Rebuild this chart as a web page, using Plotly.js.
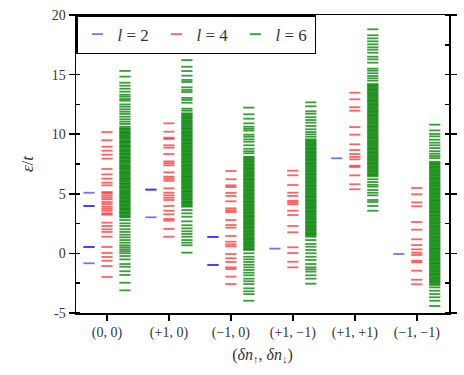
<!DOCTYPE html>
<html>
<head>
<meta charset="utf-8">
<script src="https://cdn.plot.ly/plotly-3.0.1.min.js"></script>
<style>
  html, body { margin: 0; padding: 0; background: #fff; }
  #chart { width: 464px; height: 375px; }
</style>
</head>
<body>
<div id="chart"></div>
<script>
// Sectors (dn_up, dn_down) on the x axis
const categories = ["(0, 0)", "(+1, 0)", "(\u22121, 0)", "(+1, \u22121)", "(+1, +1)", "(\u22121, \u22121)"];
const yTickVals = [-5, 0, 5, 10, 15, 20];
const yTickText = ["-5", "0", "5", "10", "15", "20"];

// Energy levels eps/t, one list per sector
// (repeated values = darker, degenerate lines)
const levelsL2 = [
  [5.09, 3.98, 3.98, 0.54, 0.54, -0.83],
  [5.35, 5.35, 3.03],
  [1.38, 1.38, -0.97, -0.97],
  [0.40],
  [7.98],
  [-0.05]
];

const levelsL4 = [
  [10.18, 9.49, 8.95, 8.62, 8.28, 7.95, 7.08, 6.63, 6.27, 5.93, 5.71, 5.15, 5.04, 4.87, 4.70, 4.54, 4.31, 4.14,
   3.92, 3.75, 3.58, 3.36, 3.25, 2.58, 2.30, 2.02, 1.80, 1.40, 0.54, 0.03, -0.30, -0.61, -1.06, -1.98],
  [10.91, 10.21, 9.71, 9.60, 9.07, 8.87, 8.34, 7.72, 7.56, 7.39, 6.80, 6.44, 6.27, 6.10, 5.46, 5.09, 4.87, 4.67,
   4.48, 3.98, 3.58, 3.28, 2.89, 2.75, 2.05, 1.40],
  [6.91, 6.22, 5.71, 5.57, 5.07, 4.82, 4.37, 3.78, 3.61, 3.47, 2.80, 2.38, 2.16, 1.46, 0.98, 0.76, 0.59, -0.05,
   -0.41, -0.72, -1.17, -1.31, -1.95, -2.57],
  [6.94, 6.55, 5.74, 5.09, 4.82, 4.42, 4.28, 4.12, 3.58, 3.22, 2.30, 1.77, 0.51, 0.03, -0.70, -1.17],
  [13.48, 12.93, 12.26, 11.97, 10.60, 9.96, 9.15, 8.67, 8.34, 8.09, 7.89, 7.36, 7.25, 6.55, 5.80, 5.38],
  [5.49, 4.96, 4.28, 3.95, 2.63, 1.99, 1.18, 0.70, 0.34, 0.06, -0.13, -0.61, -0.75, -1.45, -2.21, -2.59]
];

const levelsL6 = [
  [15.31, 14.83, 14.32, 14.07, 13.82, 13.57, 13.31, 13.15, 12.95, 12.81, 12.50, 12.31, 12.09, 11.89, 11.70, 11.47,
   11.25, 11.05, 10.86, 10.63,
   10.50, 10.42, 10.31, 10.20, 10.12, 10.03, 9.92, 9.81, 9.73, 9.64, 9.52, 9.41, 9.33, 9.24, 9.12, 9.02, 8.94, 8.83,
   8.71, 8.62, 8.53, 8.41, 8.33, 8.22, 8.11, 8.02, 7.93, 7.81, 7.72, 7.64, 7.52, 7.40, 7.32, 7.21, 7.12, 7.03, 6.91,
   6.80, 6.72, 6.61, 6.52, 6.41, 6.30, 6.22, 6.11, 6.02, 5.90, 5.82, 5.71, 5.60, 5.52, 5.43, 5.31, 5.20, 5.12, 5.01,
   4.92, 4.81, 4.70, 4.62, 4.51, 4.40, 4.32, 4.21, 4.10, 4.02, 3.91, 3.80, 3.71, 3.62, 3.50, 3.41, 3.32, 3.20, 3.11,
   3.02, 2.80, 2.52, 2.30, 2.02, 1.80, 1.57, 1.35, 1.12, 0.90, 0.68, 0.51, 0.34, 0.18, 0.01, -0.22, -0.50, -0.89,
   -1.12, -1.50, -1.81, -2.46, -3.10],
  [16.22, 15.66, 15.30, 14.91, 14.55, 14.38, 13.93, 13.71, 13.54, 13.04, 12.87, 12.64, 12.14, 11.97,
   11.75, 11.66, 11.55, 11.44, 11.35, 11.24, 11.13, 11.04, 10.93, 10.82, 10.73, 10.62, 10.51, 10.42, 10.31, 10.20,
   10.11, 10.00, 9.90, 9.81, 9.70, 9.59, 9.50, 9.39, 9.28, 9.19, 9.08, 8.97, 8.88, 8.77, 8.66, 8.57, 8.46, 8.35,
   8.26, 8.15, 8.04, 7.95, 7.84, 7.73, 7.64, 7.53, 7.42, 7.33, 7.22, 7.11, 7.02, 6.91, 6.80, 6.71, 6.60, 6.49, 6.40,
   6.29, 6.18, 6.09, 5.98, 5.87, 5.78, 5.67, 5.56, 5.47, 5.36, 5.25, 5.16, 5.05, 4.94, 4.85, 4.74, 4.63, 4.54, 4.43,
   4.32, 4.23, 4.12, 4.01, 3.92, 3.64, 3.36, 3.08, 2.69, 2.36, 2.10, 1.85, 1.63, 1.40, 1.12, 0.90, 0.68, 0.06],
  [12.23, 11.67, 11.30, 10.91, 10.63, 10.46, 10.30, 9.96, 9.79, 9.57, 9.37, 9.07, 8.78, 8.57, 8.40,
   8.11, 8.02, 7.91, 7.80, 7.71, 7.60, 7.49, 7.40, 7.29, 7.18, 7.09, 6.98, 6.87, 6.78, 6.67, 6.56, 6.47, 6.36, 6.25,
   6.16, 6.05, 5.94, 5.85, 5.74, 5.63, 5.54, 5.43, 5.32, 5.23, 5.12, 5.01, 4.92, 4.81, 4.70, 4.61, 4.50, 4.39, 4.30,
   4.19, 4.08, 3.99, 3.88, 3.77, 3.68, 3.57, 3.46, 3.37, 3.26, 3.15, 3.06, 2.95, 2.84, 2.75, 2.64, 2.53, 2.44, 2.33,
   2.22, 2.13, 2.02, 1.91, 1.82, 1.71, 1.60, 1.51, 1.40, 1.29, 1.20, 1.09, 0.98, 0.89, 0.78, 0.67, 0.58, 0.47, 0.36,
   0.29, 0.01, -0.28, -0.50, -0.72, -0.95, -1.17, -1.39, -1.62, -1.84, -2.12, -2.34, -2.57, -2.93, -3.18, -3.41, -3.97],
  [12.67, 12.34, 11.92, 11.72, 11.42, 11.19, 10.97, 10.69, 10.41, 10.18, 9.99, 9.79,
   9.57, 9.46, 9.37, 9.26, 9.15, 9.06, 8.95, 8.84, 8.75, 8.64, 8.53, 8.44, 8.33, 8.22, 8.13, 8.02, 7.91, 7.82, 7.71,
   7.60, 7.51, 7.40, 7.29, 7.20, 7.09, 6.98, 6.89, 6.78, 6.67, 6.58, 6.47, 6.36, 6.27, 6.16, 6.05, 5.96, 5.85, 5.74,
   5.65, 5.54, 5.43, 5.34, 5.23, 5.12, 5.03, 4.92, 4.81, 4.72, 4.61, 4.50, 4.41, 4.30, 4.19, 4.10, 3.99, 3.88, 3.79,
   3.68, 3.57, 3.48, 3.37, 3.26, 3.17, 3.06, 2.95, 2.86, 2.75, 2.64, 2.55, 2.44, 2.33, 2.24, 2.13, 2.02, 1.93, 1.82,
   1.71, 1.62, 1.51, 1.40, 1.12, 0.79, 0.56, 0.29, 0.01, -0.28, -0.55, -0.89, -1.17, -1.34, -1.53, -1.84, -2.12, -2.54],
  [18.80, 18.30, 18.04, 17.79, 17.54, 17.29, 17.09, 16.84, 16.50, 16.28, 16.00, 15.50, 15.33, 15.11, 14.88, 14.69,
   14.49, 14.21, 14.10, 14.01, 13.90, 13.79, 13.70, 13.59, 13.48, 13.39, 13.28, 13.17, 13.08, 12.97, 12.86, 12.77,
   12.66, 12.55, 12.46, 12.35, 12.24, 12.15, 12.04, 11.93, 11.84, 11.73, 11.62, 11.53, 11.42, 11.31, 11.22, 11.11,
   11.00, 10.91, 10.80, 10.69, 10.60, 10.49, 10.38, 10.29, 10.18, 10.07, 9.98, 9.87, 9.76, 9.67, 9.56, 9.45, 9.36,
   9.25, 9.14, 9.05, 8.94, 8.83, 8.74, 8.63, 8.52, 8.43, 8.32, 8.21, 8.12, 8.01, 7.90, 7.81, 7.70, 7.59, 7.50, 7.39,
   7.28, 7.19, 7.08, 6.97, 6.88, 6.77, 6.66, 6.57, 6.46, 6.22, 5.99, 5.76, 5.60, 5.32, 5.09, 4.87, 4.48, 4.31, 3.98,
   3.58],
  [10.80, 10.32, 10.02, 9.82, 9.54, 9.29, 9.07, 8.84, 8.57, 8.36, 8.17, 8.00,
   7.69, 7.58, 7.49, 7.38, 7.27, 7.18, 7.07, 6.96, 6.87, 6.76, 6.65, 6.56, 6.45, 6.34, 6.25, 6.14, 6.03, 5.94, 5.83,
   5.72, 5.63, 5.52, 5.41, 5.32, 5.21, 5.10, 5.01, 4.90, 4.79, 4.70, 4.59, 4.48, 4.39, 4.28, 4.17, 4.08, 3.97, 3.86,
   3.77, 3.66, 3.55, 3.46, 3.35, 3.24, 3.15, 3.04, 2.93, 2.84, 2.73, 2.62, 2.53, 2.42, 2.31, 2.22, 2.11, 2.00, 1.91,
   1.80, 1.69, 1.60, 1.49, 1.38, 1.29, 1.18, 1.07, 0.98, 0.87, 0.76, 0.67, 0.56, 0.45, 0.36, 0.25, 0.14, 0.05, -0.06,
   -0.17, -0.26, -0.37, -0.48, -0.57, -0.68, -0.79, -0.88, -0.99, -1.10, -1.19, -1.30, -1.41, -1.50, -1.61, -1.72,
   -1.81, -1.92, -2.03, -2.12, -2.23, -2.34, -2.43, -2.54, -2.65, -2.85, -3.13, -3.41, -3.68, -3.97, -4.41]
];

const seriesNames = ["<i>l</i> = 2", "<i>l</i> = 4", "<i>l</i> = 6"];
const seriesColors = ["rgba(0,0,255,0.55)", "rgba(255,0,0,0.62)", "rgba(0,128,0,0.78)"];
const seriesOffsets = [-0.29, 0, 0.29];

// each level is a short horizontal dash at (sector + offset, energy)
function buildTrace(levels, k) {
  const xs = [];
  const ys = [];
  levels.forEach((list, i) => {
    list.forEach(e => {
      xs.push(i + seriesOffsets[k]);
      ys.push(e);
    });
  });
  return {
    x: xs,
    y: ys,
    type: "scatter",
    mode: "markers",
    name: seriesNames[k],
    marker: {
      symbol: "line-ew",
      size: 8,
      line: { color: seriesColors[k], width: 1.8 }
    },
    hoverinfo: "skip"
  };
}

const traces = [levelsL2, levelsL4, levelsL6].map((lv, k) => buildTrace(lv, k));

const serif = "'Liberation Serif', 'DejaVu Serif', serif";

const layout = {
  width: 464,
  height: 375,
  margin: { l: 76, r: 15, t: 15, b: 62 },
  paper_bgcolor: "#fff",
  plot_bgcolor: "#fff",
  font: { family: serif, size: 14, color: "#222" },
  showlegend: true,
  legend: {
    orientation: "h",
    x: 0, y: 1, xanchor: "left", yanchor: "top",
    bgcolor: "#fff",
    bordercolor: "#000",
    borderwidth: 1.5,
    itemwidth: 30,
    entrywidth: 34,
    entrywidthmode: "pixels",
    font: { family: serif, size: 17, color: "#333" },
    tracegroupgap: 0
  },
  xaxis: {
    range: [-0.5, 5.52],
    tickmode: "array",
    tickvals: categories.map((c, i) => i),
    ticktext: categories,
    ticks: "outside",
    ticklen: 6,
    tickwidth: 1.5,
    tickcolor: "#000",
    showline: true,
    linecolor: "#000",
    linewidth: 1.5,
    mirror: true,
    showgrid: false,
    zeroline: false,
    tickfont: { family: serif, size: 14, color: "#333" },
    title: { text: "(<i>\u03b4n</i><sub>\u2191</sub>, <i>\u03b4n</i><sub>\u2193</sub>)", font: { family: serif, size: 16, color: "#333" }, standoff: 8 }
  },
  yaxis: {
    range: [-5, 20],
    tickmode: "array",
    tickvals: yTickVals,
    ticktext: yTickText,
    ticks: "outside",
    ticklen: 6,
    tickwidth: 1.5,
    tickcolor: "#000",
    minor: { tickmode: "linear", tick0: -5, dtick: 2.5, ticks: "inside", ticklen: 4, tickwidth: 1.5, tickcolor: "#000", showgrid: false },
    showline: true,
    linecolor: "#000",
    linewidth: 1.5,
    mirror: "ticks",
    showgrid: false,
    zeroline: false,
    tickfont: { family: serif, size: 14, color: "#333" },
    title: { text: "<i>\u03b5</i>/<i>t</i>", font: { family: serif, size: 17, color: "#333" }, standoff: 14 }
  }
};

Plotly.newPlot("chart", traces, layout, { displayModeBar: false, staticPlot: true });
</script>
</body>
</html>
